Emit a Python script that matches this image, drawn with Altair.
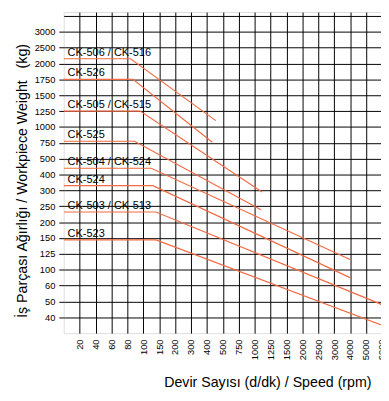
import altair as alt
import numpy as np
import pandas as pd

# Axis tick labels (equally spaced, non-linear)
speed_labels = [20, 40, 60, 80, 100, 150, 200, 300, 400, 500, 750, 1000, 1250,
                1500, 2000, 2500, 3000, 4000, 5000, 6000]
weight_labels = [40, 50, 60, 100, 125, 150, 200, 250, 300, 400, 500, 750, 1000,
                 1250, 1500, 1750, 2000, 2500, 3000]

# Series
models = ["CK-506 / CK-516", "CK-526", "CK-505 / CK-515", "CK-525",
          "CK-504 / CK-524", "CK-524", "CK-503 / CK-513", "CK-523"]
max_weight = [2150, 1750, 1250, 775, 440, 330, 232, 147]      # kg (flat part)
break_speed = [84, 87, 96, 89, 125, 130, 140, 140]            # rpm
end_speed = [456, 434, 1117, 1100, 4000, 4000, 6000, 6000]    # rpm
end_weight = [1100, 760, 295, 239, 116, 80, 48, 35]           # kg

# Equally spaced "grid" scale: label k sits on grid line k+1
sx_vals = [0] + speed_labels
sx_pos = list(range(len(sx_vals)))
wy_vals = [30] + weight_labels
wy_pos = list(range(len(wy_vals)))


def xp(v):
    return float(np.interp(v, sx_vals, sx_pos))


def yp(v):
    return float(np.interp(v, wy_vals, wy_pos, left=(v - 30) / 10))


rows = []
for i, m in enumerate(models):
    pts = [(0, max_weight[i]), (break_speed[i], max_weight[i]),
           (end_speed[i], end_weight[i])]
    for j, (s, w) in enumerate(pts):
        rows.append({"model": m, "order": j, "xpos": xp(s), "ypos": yp(w)})
df = pd.DataFrame(rows)

lab = pd.DataFrame({"model": models, "xpos": [0.0] * len(models),
                    "ypos": [yp(w) for w in max_weight]})

W = 324.1
H = 328
X_MAX = W / 16.25
Y_MAX = H / 16.2
FONT = "Liberation Sans"

x_expr = "datum.value >= 1 && datum.value <= %d ? %s[datum.value - 1] : ''" % (
    len(speed_labels), str([str(v) for v in speed_labels]))
y_expr = "datum.value >= 1 && datum.value <= %d ? %s[datum.value - 1] : ''" % (
    len(weight_labels), str([str(v) for v in weight_labels]))

xenc = alt.X("xpos:Q",
             scale=alt.Scale(domain=[0, X_MAX], nice=False, zero=False),
             axis=alt.Axis(values=list(range(1, len(speed_labels) + 1)),
                           tickCount=60, labelOverlap=False,
                           labelExpr=x_expr, grid=True, gridColor="black",
                           gridOpacity=1, gridWidth=1, ticks=False, domain=False,
                           labelAngle=270, labelFontSize=9.5, labelPadding=6,
                           labelFlush=False, labelColor="black", labelFont=FONT,
                           title="Devir Sayısı (d/dk) / Speed (rpm)",
                           titleFontSize=14.5, titleFontWeight="normal",
                           titleColor="black", titleFont=FONT,
                           titleX=208, titleY=54, titleAlign="center",
                           titleBaseline="alphabetic"))

yenc = alt.Y("ypos:Q",
             scale=alt.Scale(domain=[0, Y_MAX], nice=False, zero=False),
             axis=alt.Axis(values=list(range(1, len(weight_labels) + 2)),
                           tickCount=60, labelOverlap=False,
                           labelExpr=y_expr, grid=True, gridColor="black",
                           gridOpacity=1, gridWidth=1,
                           tickColor={"condition": {"test": "datum.value > %d" % len(weight_labels),
                                                    "value": "transparent"},
                                      "value": "black"},
                           tickSize=5, labelPadding=4, domain=False,
                           labelFontSize=9.5, labelFlush=False, labelColor="black",
                           labelFont=FONT,
                           title="İş Parçası Ağırlığı / Workpiece Weight\u00a0\u00a0\u00a0(kg)",
                           titleFontSize=14.5, titleFontWeight="normal",
                           titleColor="black", titleFont=FONT,
                           titleX=-37.5, titleY=172, titleAlign="center",
                           titleBaseline="alphabetic", titleAngle=270))

lines = alt.Chart(df).mark_line(color="#F26B43", strokeWidth=1.2, clip=True).encode(
    x=xenc, y=yenc, detail="model:N", order="order:Q")

texts = alt.Chart(lab).mark_text(align="left", baseline="bottom", dx=4, dy=-1,
                                 fontSize=11.2, font=FONT, color="black").encode(
    x="xpos:Q", y="ypos:Q", text="model:N")

chart = alt.layer(lines, texts).properties(
    width=W, height=H, autosize="none",
    padding={"left": 56.9, "top": 0, "right": 0, "bottom": 57},
).configure_view(stroke="black", strokeWidth=1).configure(font=FONT)

chart.save("out.html", embed_options={"renderer": "svg", "actions": False})
